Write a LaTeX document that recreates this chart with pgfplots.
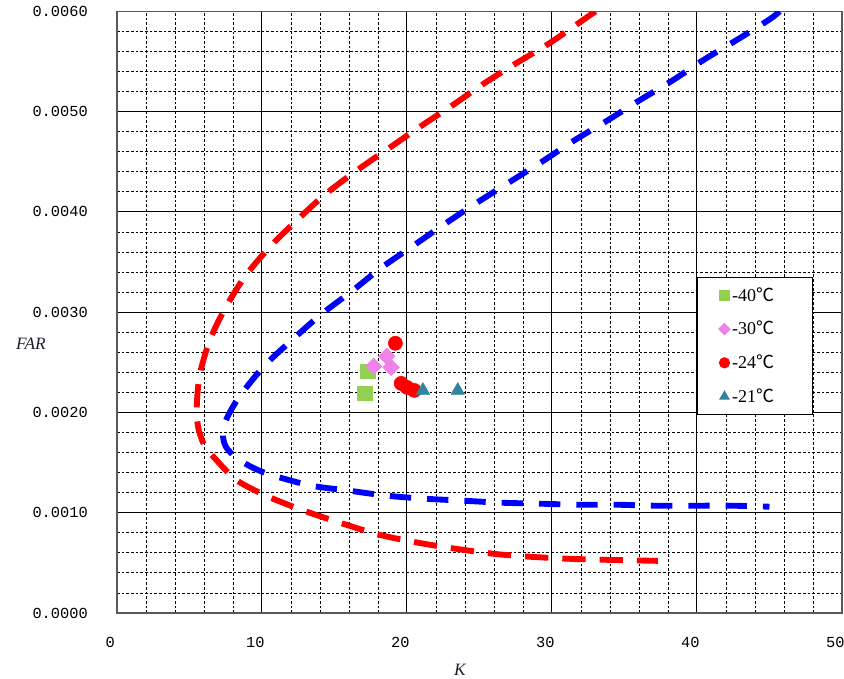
\documentclass[border=0pt]{standalone}
\usepackage{pgfplots}
\pgfplotsset{compat=1.18}
\usepackage{fontspec}
\setmainfont{Liberation Serif}
\newfontfamily\monofont{Liberation Mono}
\newfontfamily\cjk{Noto Sans CJK SC}
\definecolor{cgreen}{RGB}{146,208,80}
\definecolor{cpink}{RGB}{238,130,230}
\definecolor{cteal}{RGB}{49,132,155}
\definecolor{clabel}{RGB}{30,30,50}
\pgfplotsset{myleg/.style={legend image code/.code={\draw[##1, mark size=#1] plot coordinates {(0pt,0pt)};}}}
\begin{document}
\begin{tikzpicture}
\useasboundingbox (-87.75pt,-49.5pt) rectangle (545.25pt,459.75pt);
\begin{axis}[
  at={(0pt,0pt)}, anchor=south west,
  scale only axis, width=543.75pt, height=451.2pt,
  xmin=0, xmax=50, ymin=0, ymax=0.006,
  xtick={0,10,20,30,40,50},
  ytick={0,0.001,0.002,0.003,0.004,0.005,0.006},
  minor x tick num=4, minor y tick num=4,
  grid=both,
  major grid style={black, line width=0.75pt},
  minor grid style={black, line width=0.6pt, dash pattern=on 2pt off 1.5pt},
  major tick length=0pt, minor tick length=0pt,
  axis line style={draw={rgb,1:red,0.35;green,0.35;blue,0.35}, line width=0.9pt},
  scaled y ticks=false,
  /pgf/number format/assume math mode=true,
  ticklabel style={font=\monofont\fontsize{11.5}{12}\selectfont},
  yticklabel style={anchor=east, inner sep=0pt, xshift=-21.75pt,
    /pgf/number format/.cd, fixed, fixed zerofill, precision=4},
  xticklabel style={anchor=north, inner sep=0pt, yshift=-18pt, xshift=-5pt},
  xlabel={K},
  ylabel={FAR},
  every axis x label/.style={at={(rel axis cs:0.473,0)}, anchor=center, yshift=-42.75pt,
    font=\fontsize{13}{15}\selectfont\itshape, text=clabel},
  every axis y label/.style={at={(rel axis cs:0,0.447)}, anchor=center, xshift=-64.5pt,
    font=\fontsize{13}{15}\selectfont\itshape, text=clabel},
  legend style={at={(0.8,0.5585)}, anchor=north west, draw=black, line width=0.75pt,
    fill=white, font=\fontsize{13.5}{15}\selectfont, row sep=10.5pt,
    inner xsep=16pt, inner ysep=6pt, nodes={inner sep=1.5pt, text width=43pt, align=left}},
  legend cell align=left,
]
\addplot[red, line width=4.4pt, dash pattern=on 17.5pt off 10.5pt, smooth, tension=0.5, forget plot] coordinates {
(33.0,0.00600) (32.0,0.00590) (29.8,0.00568) (27.5,0.00548) (25.3,0.00528)
(23.1,0.00506) (20.9,0.00485) (18.8,0.00464) (16.6,0.00442) (14.4,0.00418)
(12.5,0.00393) (10.6,0.00366) (8.9,0.00337) (7.5,0.00305) (6.4,0.00272)
(5.7,0.00237) (5.5,0.00205) (5.6,0.00185) (6.0,0.00168) (6.7,0.00155)
(8.3,0.00132) (10.6,0.00115) (13.1,0.00101) (15.6,0.00089) (18.1,0.00078)
(20.8,0.00070) (23.4,0.00064) (26.0,0.00059) (28.6,0.00056) (31.3,0.00054)
(33.9,0.00053) (37.3,0.00052)};
\addplot[blue, line width=4.4pt, dash pattern=on 16pt off 12pt, smooth, tension=0.5, forget plot] coordinates {
(45.7,0.00600) (45.0,0.00592) (42.8,0.00572) (40.5,0.00552) (38.3,0.00531)
(36.0,0.00511) (33.8,0.00491) (31.5,0.00471) (29.3,0.00450) (27.1,0.00430)
(24.8,0.00409) (22.6,0.00388) (20.4,0.00366) (18.2,0.00344) (16.2,0.00321)
(14.1,0.00298) (12.2,0.00274) (10.2,0.00247) (8.5,0.00217) (7.6,0.00195)
(7.3,0.00180) (7.5,0.00166) (8.3,0.00154) (9.5,0.00144) (10.8,0.00137)
(13.4,0.00127) (16.0,0.00122) (18.6,0.00117) (21.2,0.00114) (23.9,0.00112)
(26.5,0.00110) (29.2,0.00109) (31.8,0.00108) (34.4,0.00108) (37.1,0.00107)
(39.7,0.00107) (42.4,0.00107) (45.0,0.00106)};
\addplot[only marks, mark=square*, color=cgreen, mark size=5.4pt, myleg=3.6pt] coordinates {
(17.3,0.00241) (17.1,0.00219)};
\addlegendentry{-40{\cjk ℃}}
\addplot[only marks, mark=square*, color=cpink, mark size=4.4pt, mark options={rotate=45}, myleg=3pt] coordinates {
(17.7,0.00246) (18.6,0.00256) (18.9,0.00245)};
\addlegendentry{-30{\cjk ℃}}
\addplot[only marks, mark=*, color=red, mark size=5.3pt, myleg=3.8pt] coordinates {
(19.2,0.00269) (19.6,0.00229) (20.0,0.00225) (20.5,0.00222)};
\addlegendentry{-24{\cjk ℃}}
\addplot[only marks, mark=triangle*, color=cteal, mark size=5.8pt, myleg=4pt] coordinates {
(21.1,0.00222) (23.5,0.00222)};
\addlegendentry{-21{\cjk ℃}}
\end{axis}
\end{tikzpicture}
\end{document}
